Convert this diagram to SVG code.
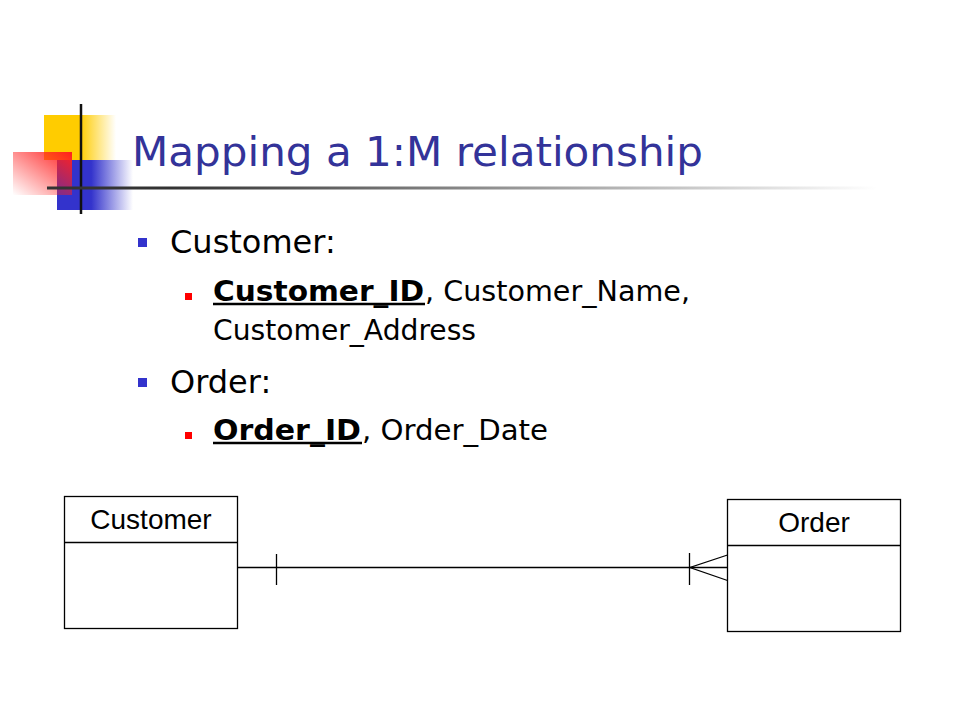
<svg xmlns="http://www.w3.org/2000/svg" width="960" height="720" viewBox="0 0 960 720">
<defs>
<linearGradient id="gy" x1="0" y1="0" x2="1" y2="0"><stop offset="0" stop-color="#FFCC00"/><stop offset="0.5" stop-color="#FFCC00"/><stop offset="1" stop-color="#FFCC00" stop-opacity="0"/></linearGradient>
<linearGradient id="gb" x1="0" y1="0" x2="1" y2="0"><stop offset="0" stop-color="#3333CC"/><stop offset="0.45" stop-color="#3333CC"/><stop offset="1" stop-color="#3333CC" stop-opacity="0"/></linearGradient>
<linearGradient id="gr" x1="1" y1="0" x2="0" y2="1"><stop offset="0" stop-color="#FF2020"/><stop offset="1" stop-color="#FF2020" stop-opacity="0"/></linearGradient>
<linearGradient id="gl" x1="0" y1="0" x2="1" y2="0"><stop offset="0" stop-color="#333333"/><stop offset="0.15" stop-color="#333333"/><stop offset="1" stop-color="#333333" stop-opacity="0"/></linearGradient>
<style>
.title{font-family:"DejaVu Sans",Verdana,sans-serif;font-size:40px;fill:#333399}
.b1{font-family:"DejaVu Sans",Verdana,sans-serif;font-size:32px;fill:#000}
.b2{font-family:"DejaVu Sans",Verdana,sans-serif;font-size:28px;fill:#000}
.key{font-weight:bold}
.lbl{font-family:"Liberation Sans",Arial,sans-serif;font-size:28px;fill:#000;text-anchor:middle}
.box{fill:#fff;stroke:#000;stroke-width:1.3}
.ln{stroke:#000;stroke-width:1.3;fill:none}
.ul{stroke:#000;stroke-width:2.5}
</style>
</defs>
<rect width="960" height="720" fill="#fff"/>
<g id="logo">
<rect x="44" y="115" width="72" height="45" fill="url(#gy)"/>
<rect x="57" y="160" width="76" height="50" fill="url(#gb)"/>
<rect x="13" y="152" width="59" height="43" fill="url(#gr)"/>
<line x1="81" y1="104" x2="81" y2="214" stroke="#111" stroke-width="2.5"/>
</g>
<rect x="47" y="186.5" width="830" height="3" fill="url(#gl)"/>
<text class="title" x="132" y="166" textLength="571" lengthAdjust="spacingAndGlyphs">Mapping a 1:M relationship</text>
<g id="bullets">
<rect x="138" y="238" width="9" height="9" fill="#3333CC"/>
<text class="b1" x="170" y="253">Customer:</text>
<rect x="185" y="293" width="7" height="7" fill="#FF0000"/>
<text class="b2 key" x="213" y="301" textLength="211" lengthAdjust="spacingAndGlyphs">Customer_ID</text>
<line class="ul" x1="213" y1="304" x2="425" y2="304"/>
<text class="b2" x="425" y="301" textLength="265" lengthAdjust="spacingAndGlyphs">, Customer_Name,</text>
<text class="b2" x="213" y="340" textLength="263" lengthAdjust="spacingAndGlyphs">Customer_Address</text>
<rect x="138" y="378" width="9" height="9" fill="#3333CC"/>
<text class="b1" x="170" y="393">Order:</text>
<rect x="185" y="432" width="7" height="7" fill="#FF0000"/>
<text class="b2 key" x="213" y="440" textLength="148" lengthAdjust="spacingAndGlyphs">Order_ID</text>
<line class="ul" x1="213" y1="443" x2="362" y2="443"/>
<text class="b2" x="362" y="440" textLength="186" lengthAdjust="spacingAndGlyphs">, Order_Date</text>
</g>
<g id="customer">
<rect class="box" x="64.5" y="496.5" width="173" height="132"/>
<line class="ln" x1="64.5" y1="542.5" x2="237.5" y2="542.5"/>
<text class="lbl" x="151" y="529">Customer</text>
</g>
<g id="order">
<rect class="box" x="727.5" y="499.5" width="173" height="132"/>
<line class="ln" x1="727.5" y1="545.5" x2="900.5" y2="545.5"/>
<text class="lbl" x="814" y="532">Order</text>
</g>
<g id="connectors">
<line class="ln" x1="237.5" y1="567.5" x2="727.5" y2="567.5"/>
<line class="ln" x1="276.5" y1="554" x2="276.5" y2="585"/>
<line class="ln" x1="689.5" y1="553" x2="689.5" y2="585"/>
<polyline class="ln" points="727.5,555 690,567.5 727.5,580.5"/>
</g>
</svg>
